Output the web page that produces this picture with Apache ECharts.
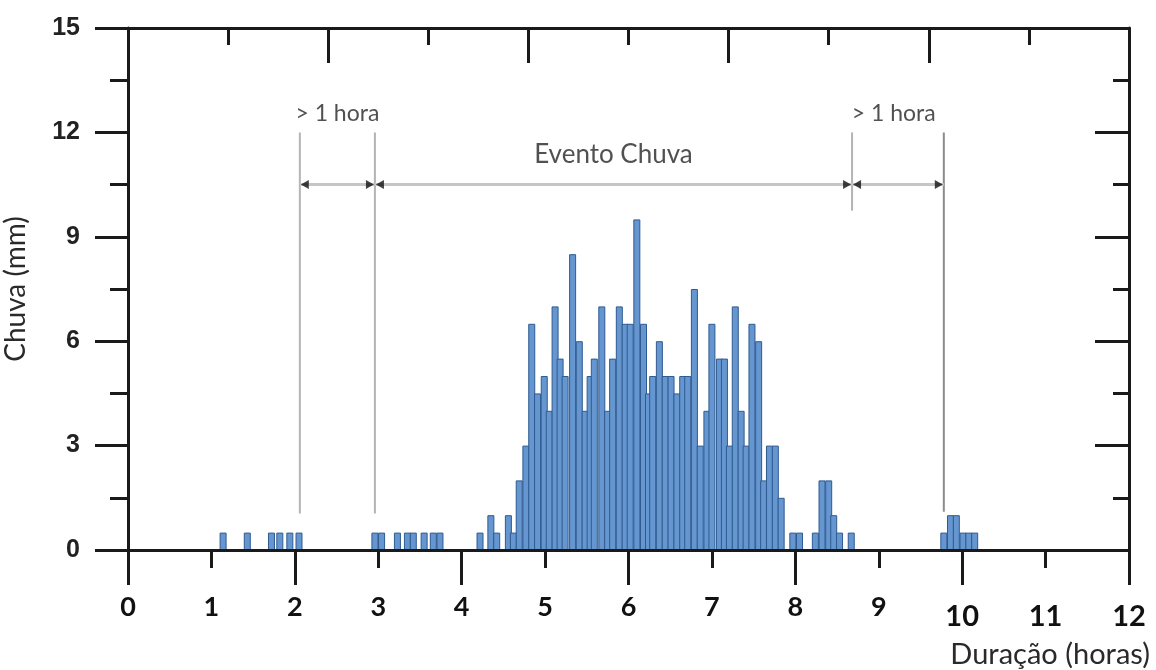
<!DOCTYPE html>
<html>
<head>
<meta charset="utf-8">
<title>Evento Chuva</title>
<script src="https://cdn.jsdelivr.net/npm/echarts@6/dist/echarts.min.js"></script>
<style>
  html, body { margin: 0; padding: 0; background: #fff; }
  #chart { width: 1156px; height: 670px; }
</style>
</head>
<body>
<div id="chart"></div>
<script>
// instante (h) de cada barra de 5 min e chuva (mm)
var horas = [
  1.14, 1.43, 1.72, 1.82, 1.94, 2.05,
  2.96, 3.04, 3.23, 3.35, 3.42, 3.55, 3.66, 3.74,
  4.22, 4.35, 4.42, 4.56, 4.62, 4.69, 4.77, 4.84, 4.91, 4.99,
  5.05, 5.12, 5.18, 5.24, 5.33, 5.41, 5.48, 5.54, 5.59, 5.68, 5.75, 5.81, 5.89, 5.96,
  6.02, 6.10, 6.18, 6.24, 6.29, 6.37, 6.44, 6.51, 6.58, 6.65, 6.71, 6.79, 6.86, 6.94,
  7.00, 7.09, 7.15, 7.21, 7.28, 7.35, 7.41, 7.48, 7.56, 7.62, 7.69, 7.76, 7.83, 7.97,
  8.05, 8.24, 8.32, 8.40, 8.46, 8.53, 8.67,
  9.78, 9.86, 9.93, 10.01, 10.08, 10.15
];
var chuva = [
  0.5, 0.5, 0.5, 0.5, 0.5, 0.5,
  0.5, 0.5, 0.5, 0.5, 0.5, 0.5, 0.5, 0.5,
  0.5, 1.0, 0.5, 1.0, 0.5, 2.0, 3.0, 6.5, 4.5, 5.0,
  4.0, 7.0, 5.5, 5.0, 8.5, 6.0, 4.0, 5.0, 5.5, 7.0, 4.0, 5.5, 7.0, 6.5,
  6.5, 9.5, 6.5, 4.5, 5.0, 6.0, 5.0, 5.0, 4.5, 5.0, 5.0, 7.5, 3.0, 4.0,
  6.5, 5.5, 5.5, 3.0, 7.0, 4.0, 3.0, 6.5, 6.0, 2.0, 3.0, 3.0, 1.5, 0.5,
  0.5, 0.5, 2.0, 2.0, 1.0, 0.5, 0.5,
  0.5, 1.0, 1.0, 0.5, 0.5, 0.5
];

// limites do evento (linhas verticais cinza)
var limites = [2.06, 2.96, 8.68, 9.78];
var limiteBase = [1.05, 1.05, 9.75, 1.1];
var limiteTopo = 12;
var setaY = 10.5;

// textos das anotacoes
var rotulos = ['> 1 hora', 'Evento Chuva', '> 1 hora'];
var rotuloX = [2.51, 5.82, 9.18];
var rotuloY = [12.55, 11.35, 12.55];

var chart = echarts.init(document.getElementById('chart'));
var preto = '#1a1a1a';

var series = [{
  type: 'bar',
  xAxisIndex: 0,
  yAxisIndex: 0,
  barWidth: 7,
  data: horas.map(function(h, i) { return [h, chuva[i]]; }),
  itemStyle: {
    color: '#6596cf',
    borderColor: '#2f5b90',
    borderWidth: 1
  },
  z: 2
}];

// linhas verticais
limites.forEach(function(x, i) {
  series.push({
    type: 'line',
    silent: true,
    symbol: 'none',
    data: [[x, limiteBase[i]], [x, limiteTopo]],
    lineStyle: { color: i == 3 ? '#8c8c8c' : '#b4b4b4', width: 2 },
    z: 3
  });
});

// segmentos horizontais entre limites
for (var i = 0; i < limites.length - 1; i++) {
  series.push({
    type: 'line',
    silent: true,
    symbol: 'none',
    data: [[limites[i], setaY], [limites[i + 1], setaY]],
    lineStyle: { color: '#c6c6c6', width: 3 },
    z: 3
  });
}

// pontas de seta
series.push({
  type: 'scatter',
  silent: true,
  symbol: 'triangle',
  symbolSize: [9, 8],
  symbolRotate: 90,
  symbolOffset: [5, 0],
  itemStyle: { color: '#111' },
  data: limites.slice(0, 3).map(function(x) { return [x, setaY]; }),
  z: 4
});
series.push({
  type: 'scatter',
  silent: true,
  symbol: 'triangle',
  symbolSize: [9, 8],
  symbolRotate: -90,
  symbolOffset: [-5, 0],
  itemStyle: { color: '#111' },
  data: limites.slice(1).map(function(x) { return [x, setaY]; }),
  z: 4
});

// textos
series.push({
  type: 'scatter',
  silent: true,
  symbolSize: 1,
  itemStyle: { color: 'rgba(0,0,0,0)' },
  data: rotulos.map(function(t, i) {
    return {
      value: [rotuloX[i], rotuloY[i]],
      label: { fontSize: i == 1 ? 26 : 23 }
    };
  }),
  label: {
    show: true,
    position: 'inside',
    fontFamily: 'Lato',
    color: '#262626',
    formatter: function(p) { return rotulos[p.dataIndex]; }
  },
  z: 4
});

chart.setOption({
  animation: false,
  grid: [
    { left: 128, right: 27, top: 28, bottom: 120, outerBoundsMode: 'none' },
    { left: 128, right: 27, top: 28, bottom: 120, outerBoundsMode: 'none' }
  ],
  xAxis: [{
    gridIndex: 0,
    type: 'value',
    position: 'bottom',
    min: 0,
    max: 12,
    interval: 1,
    z: 5,
    axisLine: { onZero: false, lineStyle: { color: preto, width: 3 } },
    axisTick: { length: 18, lineStyle: { color: preto, width: 3 } },
    splitLine: { show: false },
    axisLabel: {
      margin: 44,
      formatter: function(v) { return v >= 10 ? '{b|' + v + '}' : '{a|' + v + '}'; },
      rich: {
        a: { fontFamily: 'Lato', fontWeight: 'bold', fontSize: 27, color: '#111' },
        b: { fontFamily: 'Lato', fontWeight: 'bold', fontSize: 29, color: '#111', padding: [8, 0, 0, 0] }
      }
    },
    name: 'Duração (horas)',
    nameLocation: 'end',
    nameGap: 21,
    nameTextStyle: {
      fontFamily: 'Lato',
      fontSize: 29,
      color: '#2a2a2a',
      align: 'right',
      verticalAlign: 'top',
      padding: [90, 0, 0, 0]
    }
  }, {
    gridIndex: 1,
    type: 'value',
    position: 'bottom',
    min: 0,
    max: 12,
    interval: 2,
    z: 5,
    axisLine: { show: false, onZero: false },
    axisTick: { length: 35, lineStyle: { color: preto, width: 3 } },
    axisLabel: { show: false },
    splitLine: { show: false }
  }, {
    gridIndex: 1,
    type: 'value',
    position: 'top',
    min: 0,
    max: 10,
    interval: 2,
    z: 5,
    axisLine: { onZero: false, lineStyle: { color: preto, width: 3 } },
    axisTick: { inside: true, length: 35, lineStyle: { color: preto, width: 3 } },
    minorTick: { show: true, splitNumber: 2, length: 17, lineStyle: { color: preto, width: 3 } },
    axisLabel: { show: false },
    splitLine: { show: false }
  }],
  yAxis: [{
    gridIndex: 0,
    type: 'value',
    position: 'left',
    min: 0,
    max: 15,
    interval: 3,
    z: 5,
    axisLine: { show: true, onZero: false, lineStyle: { color: preto, width: 3 } },
    axisTick: { show: true, length: 33, lineStyle: { color: preto, width: 3 } },
    minorTick: { show: true, splitNumber: 2, length: 18, lineStyle: { color: preto, width: 3 } },
    splitLine: { show: false },
    axisLabel: {
      margin: 48,
      fontFamily: 'Liberation Sans',
      fontWeight: 'bold',
      fontSize: 25,
      color: '#222'
    },
    name: 'Chuva (mm)',
    nameLocation: 'middle',
    nameGap: 98,
    nameTextStyle: { fontFamily: 'Lato', fontSize: 28, color: '#2a2a2a' }
  }, {
    gridIndex: 1,
    type: 'value',
    position: 'right',
    min: 0,
    max: 15,
    interval: 3,
    z: 5,
    axisLine: { show: true, onZero: false, lineStyle: { color: preto, width: 3 } },
    axisTick: { show: true, inside: true, length: 34, lineStyle: { color: preto, width: 3 } },
    minorTick: { show: true, splitNumber: 2, length: 16, lineStyle: { color: preto, width: 3 } },
    splitLine: { show: false },
    axisLabel: { show: false }
  }],
  series: series
});
</script>
</body>
</html>
